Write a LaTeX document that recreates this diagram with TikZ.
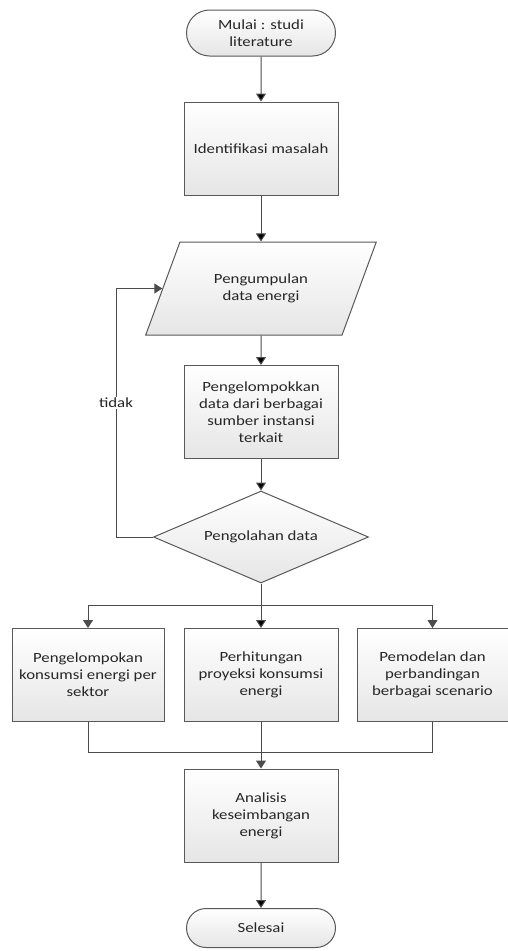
\documentclass[tikz,border=0pt]{standalone}
\usepackage{fontspec}
\setmainfont{Carlito}[FakeStretch=1.2]
\usepackage{tikz}
\usetikzlibrary{shapes.geometric,shapes.misc,arrows.meta}

\begin{document}
\begin{tikzpicture}[x=1pt, y=1pt, node distance=120pt,
  label text/.style={font=\fontsize{14}{17}\selectfont, text=black!85},
  shape node/.style={label text, draw=black!65, line width=1pt, top color=white, bottom color=black!10, inner sep=2pt, align=center},
  term node/.style={shape node, rounded rectangle, minimum width=153pt, minimum height=46pt},
  process node/.style={shape node, rectangle, minimum width=154pt, minimum height=93pt},
  data node/.style={shape node, trapezium, trapezium left angle=58, trapezium right angle=122, trapezium stretches=true, minimum width=231pt, minimum height=93pt},
  decision node/.style={shape node, diamond, aspect=2.34, inner sep=0pt, minimum width=215pt, minimum height=92pt},
  flow/.style={draw=black!70, line width=1pt, -{Triangle[width=10pt,length=8pt]}}]
\useasboundingbox (0,0) rectangle (508,-951);

\node[term node] (start) at (261,-33) {Mulai : studi\\literature};
\node[process node, below of=start, node distance=115.5pt] (ident) {Identifikasi masalah};
\node[data node, below of=ident, node distance=140pt] (collect) {Pengumpulan\\data energi};
\node[process node, below of=collect, node distance=123.5pt] (group) {Pengelompokkan\\data dari berbagai\\sumber instansi\\terkait};
\node[decision node, below of=group, node distance=125pt] (process) {Pengolahan data};
\node[process node, below of=process, node distance=138pt] (proj) {Perhitungan\\proyeksi konsumsi\\energi};
\node[process node, left of=proj, node distance=173pt, minimum width=152pt] (sector) {Pengelompokan\\konsumsi energi per\\sektor};
\node[process node, right of=proj, node distance=171.5pt, minimum width=151pt] (model) {Pemodelan dan\\perbandingan\\berbagai scenario};
\node[process node, below of=proj, node distance=140.5pt] (balance) {Analisis\\keseimbangan\\energi};
\node[term node, below of=balance, node distance=112.5pt, minimum height=39pt] (stop) {Selesai};

\coordinate (split) at (261,-605);
\coordinate (join) at (261,-752);
\coordinate (back) at (116,-537);

\path[flow]
(start) edge (ident)
(ident) edge (collect)
(collect) edge (group)
(group) edge (process)
(process) edge (proj)
(balance) edge (stop);

\draw[flow] (split) -| (sector);
\draw[flow] (split) -| (model);
\draw[flow] (process.west) -- (back) |- (collect.west);
\node[label text, fill=white, inner sep=1pt] (tidak) at (116,-403) {tidak};

\draw[draw=black!70, line width=1pt] (sector) |- (join) -| (model);
\draw[flow] (proj) -- (balance);
\end{tikzpicture}
\end{document}
